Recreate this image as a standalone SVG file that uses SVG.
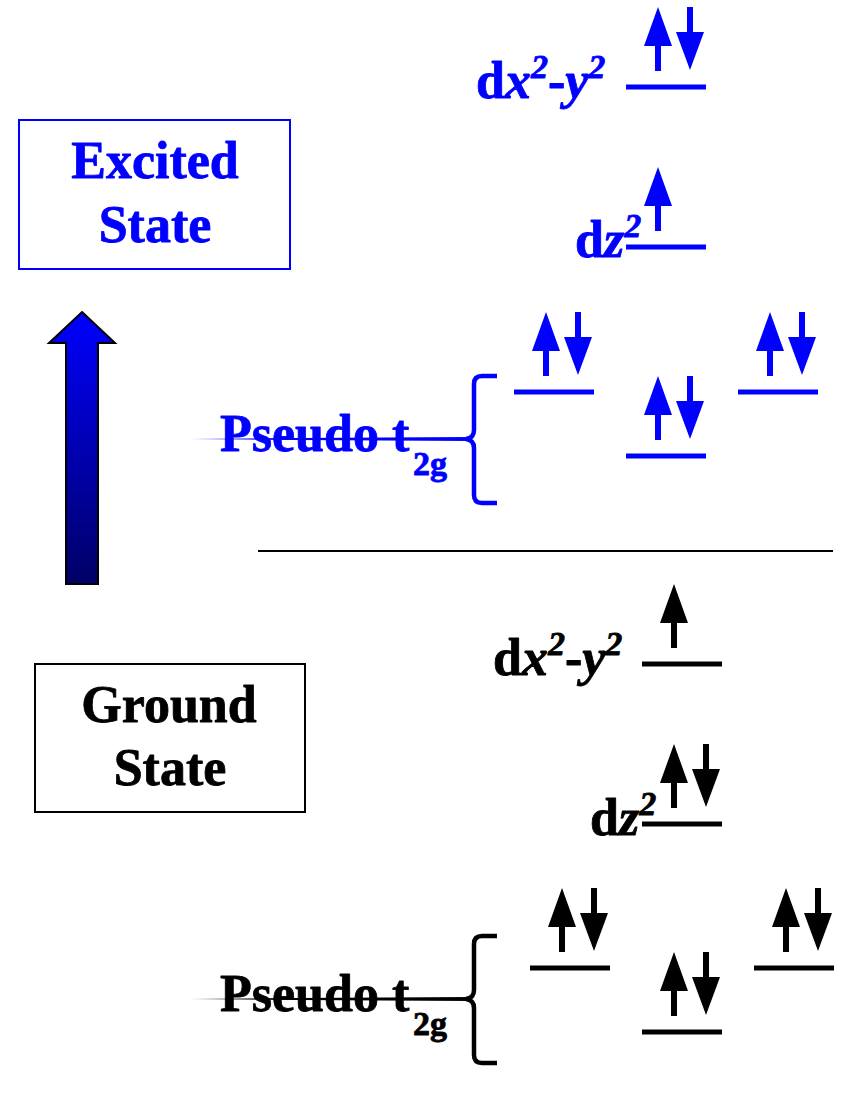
<svg xmlns="http://www.w3.org/2000/svg" xmlns:xlink="http://www.w3.org/1999/xlink" width="841" height="1106" viewBox="0 0 841 1106">
<style>
text{font-family:"Liberation Serif","Times New Roman",serif;font-weight:bold;stroke-width:0.8;stroke-linejoin:round}
.big{font-size:52px}
.sub{font-size:34px}
.blue{fill:#0000ff}
.black{fill:#000}
text.blue{stroke:#0000ff}
text.black{stroke:#000}
.lvlB{stroke:#0000ff;stroke-width:5}
.lvlK{stroke:#000;stroke-width:5}
.brB{fill:none;stroke:#0000ff;stroke-width:4.5}
.brK{fill:none;stroke:#000;stroke-width:4.5}
</style>
<defs>
<path id="up" d="M0,-80 L14,-41 L3,-41 L3,-16 L-3,-16 L-3,-41 L-14,-41 Z"/>
<path id="dn" d="M-3,-80 L3,-80 L3,-55 L14,-55 L0,-17 L-14,-55 L-3,-55 Z"/>
<linearGradient id="arrowGrad" x1="0" y1="0" x2="0" y2="1">
<stop offset="0" stop-color="#0000ff"/>
<stop offset="1" stop-color="#000066"/>
</linearGradient>
<linearGradient id="fadeB" gradientUnits="userSpaceOnUse" x1="190" y1="0" x2="270" y2="0">
<stop offset="0" stop-color="#0000ff" stop-opacity="0"/>
<stop offset="1" stop-color="#0000ff" stop-opacity="1"/>
</linearGradient>
<linearGradient id="fadeK" gradientUnits="userSpaceOnUse" x1="190" y1="0" x2="270" y2="0">
<stop offset="0" stop-color="#000" stop-opacity="0"/>
<stop offset="1" stop-color="#000" stop-opacity="1"/>
</linearGradient>
</defs>

<g id="excited-box">
<rect x="19" y="120" width="271" height="149" fill="#fff" stroke="#0000ff" stroke-width="2"/>
<text class="big blue" x="155" y="178" text-anchor="middle">Excited</text>
<text class="big blue" x="155" y="242" text-anchor="middle">State</text>
</g>

<g id="ground-box">
<rect x="35" y="664" width="270" height="148" fill="#fff" stroke="#000" stroke-width="2"/>
<text class="big black" x="169" y="722" text-anchor="middle">Ground</text>
<text class="big black" x="170" y="785" text-anchor="middle">State</text>
</g>

<g id="excitation-arrow">
<path d="M82,312 L115,343 L98,343 L98,584 L66,584 L66,343 L49,343 Z" fill="url(#arrowGrad)" stroke="#000" stroke-width="2" stroke-linejoin="miter"/>
</g>

<g id="separator">
<line x1="258" y1="551" x2="833" y2="551" stroke="#000" stroke-width="2"/>
</g>

<!-- Excited state -->
<g id="ex-dx2y2">
<text class="big blue" x="476" y="98">d<tspan font-style="italic">x</tspan><tspan class="sub" font-style="italic" dy="-20">2</tspan><tspan dy="20">-</tspan><tspan font-style="italic">y</tspan><tspan class="sub" font-style="italic" dy="-20">2</tspan></text>
<line class="lvlB" x1="626" y1="87" x2="706" y2="87"/>
<use xlink:href="#up" x="658" y="87" class="blue"/>
<use xlink:href="#dn" x="690" y="87" class="blue"/>
</g>

<g id="ex-dz2">
<text class="big blue" x="575" y="257">d<tspan font-style="italic">z</tspan><tspan class="sub" font-style="italic" dy="-20">2</tspan></text>
<line class="lvlB" x1="626" y1="247" x2="706" y2="247"/>
<use xlink:href="#up" x="658" y="247" class="blue"/>
</g>

<g id="ex-t2g">
<text class="big blue" x="220" y="451">Pseudo t<tspan class="sub" x="413" y="475">2g</tspan></text>
<path d="M190,438.5 L470,437 L470,441 L190,439.5 Z" fill="url(#fadeB)"/>
<path class="brB" d="M497,376 L482,376 Q474,376 474,384 L474,430 Q474,438 466,439 Q474,440 474,448 L474,495 Q474,503 482,503 L497,503"/>
<line class="lvlB" x1="514" y1="392" x2="594" y2="392"/>
<use xlink:href="#up" x="546" y="392" class="blue"/>
<use xlink:href="#dn" x="578" y="392" class="blue"/>
<line class="lvlB" x1="626" y1="456" x2="706" y2="456"/>
<use xlink:href="#up" x="658" y="456" class="blue"/>
<use xlink:href="#dn" x="690" y="456" class="blue"/>
<line class="lvlB" x1="738" y1="392" x2="818" y2="392"/>
<use xlink:href="#up" x="770" y="392" class="blue"/>
<use xlink:href="#dn" x="802" y="392" class="blue"/>
</g>

<!-- Ground state -->
<g id="gr-dx2y2">
<text class="big black" x="493" y="675">d<tspan font-style="italic">x</tspan><tspan class="sub" font-style="italic" dy="-20">2</tspan><tspan dy="20">-</tspan><tspan font-style="italic">y</tspan><tspan class="sub" font-style="italic" dy="-20">2</tspan></text>
<line class="lvlK" x1="642" y1="664" x2="722" y2="664"/>
<use xlink:href="#up" x="674" y="664" class="black"/>
</g>

<g id="gr-dz2">
<text class="big black" x="590" y="835">d<tspan font-style="italic">z</tspan><tspan class="sub" font-style="italic" dy="-20">2</tspan></text>
<line class="lvlK" x1="642" y1="824" x2="722" y2="824"/>
<use xlink:href="#up" x="674" y="824" class="black"/>
<use xlink:href="#dn" x="706" y="824" class="black"/>
</g>

<g id="gr-t2g">
<text class="big black" x="220" y="1011">Pseudo t<tspan class="sub" x="413" y="1035">2g</tspan></text>
<path d="M190,998.5 L470,997 L470,1001 L190,999.5 Z" fill="url(#fadeK)"/>
<path class="brK" d="M497,936 L482,936 Q474,936 474,944 L474,990 Q474,998 466,999 Q474,1000 474,1008 L474,1055 Q474,1063 482,1063 L497,1063"/>
<line class="lvlK" x1="530" y1="968" x2="610" y2="968"/>
<use xlink:href="#up" x="562" y="968" class="black"/>
<use xlink:href="#dn" x="594" y="968" class="black"/>
<line class="lvlK" x1="642" y1="1032" x2="722" y2="1032"/>
<use xlink:href="#up" x="674" y="1032" class="black"/>
<use xlink:href="#dn" x="706" y="1032" class="black"/>
<line class="lvlK" x1="754" y1="968" x2="834" y2="968"/>
<use xlink:href="#up" x="786" y="968" class="black"/>
<use xlink:href="#dn" x="818" y="968" class="black"/>
</g>
</svg>
